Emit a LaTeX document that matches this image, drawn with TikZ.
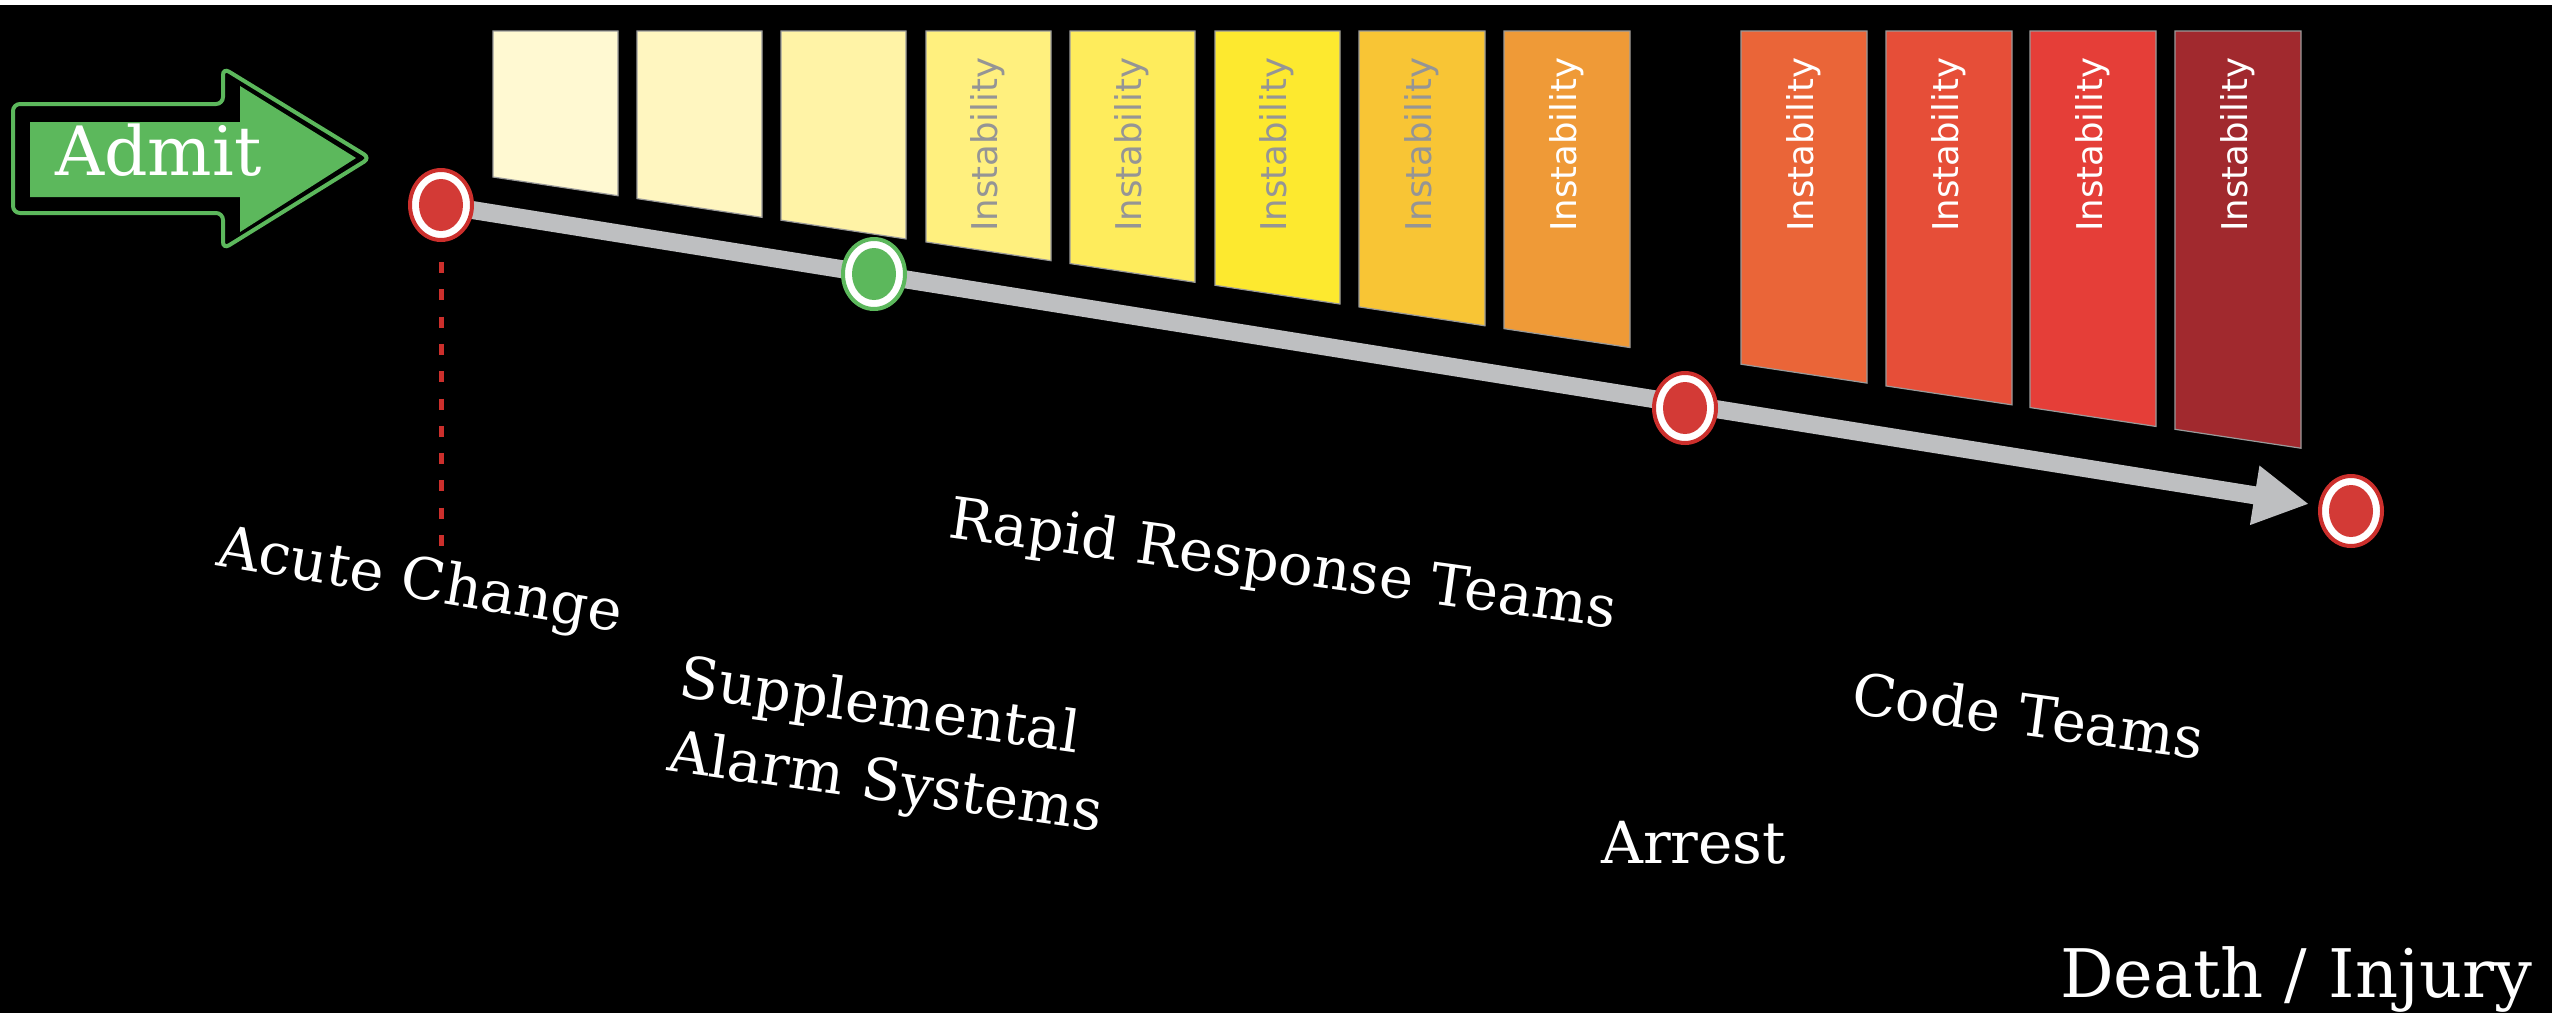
\documentclass[tikz,border=0pt]{standalone}
\usepackage{fontspec}
\setmainfont{DejaVu Serif}
\newfontfamily\instabfont{DejaVu Sans}
\usetikzlibrary{arrows.meta,shapes.geometric}
\definecolor{admitgreen}{HTML}{5CB85C}
\definecolor{ringred}{HTML}{CC2F2C}
\definecolor{innerred}{HTML}{D33A36}
\definecolor{track}{HTML}{BEBFC1}
\definecolor{instgrey}{HTML}{959595}
\definecolor{boxedge}{HTML}{9A9A9A}
\definecolor{b1}{HTML}{FFF9D2}
\definecolor{b2}{HTML}{FFF6C0}
\definecolor{b3}{HTML}{FFF3A6}
\definecolor{b4}{HTML}{FFF07E}
\definecolor{b5}{HTML}{FEEC5C}
\definecolor{b6}{HTML}{FDE92F}
\definecolor{b7}{HTML}{F8C535}
\definecolor{b8}{HTML}{EF9A37}
\definecolor{b9}{HTML}{EA6538}
\definecolor{b10}{HTML}{E64E38}
\definecolor{b11}{HTML}{E53E38}
\definecolor{b12}{HTML}{A1292E}
\begin{document}
\begin{tikzpicture}[x=1pt,y=-1pt,
  lbl/.style={text=white, inner sep=0pt, anchor=base west, font=\fontsize{57.5}{75}\selectfont},
  instab/.style={inner sep=0pt, rotate=90, anchor=west, font=\instabfont\fontsize{35.5}{36}\selectfont},
  marker/.style={ellipse, minimum width=62pt, minimum height=70pt, inner sep=0pt,
     fill=white, draw=#1, line width=4pt},
  redmark/.style={marker=ringred, path picture={\fill[innerred] (path picture bounding box.center) ellipse (22pt and 26pt);}},
  greenmark/.style={marker=admitgreen, path picture={\fill[admitgreen] (path picture bounding box.center) ellipse (22pt and 26pt);}},
  trackline/.style={draw=track, line width=18pt, -{Triangle[length=55pt,width=56pt]}},
  reddots/.style={draw=ringred, line width=5pt, dash pattern=on 11pt off 16.3pt}
]
% background
\fill[black] (0,0) rectangle (2552,1013);
\fill[white] (0,0) rectangle (2552,5);

% Admit arrow
\draw[admitgreen, line width=4pt, rounded corners=7pt]
  (13,104) -- (223,104) -- (223,68) -- (370,158) -- (223,249) -- (223,213) -- (13,213) -- cycle;
\fill[admitgreen] (30,122) -- (240,122) -- (240,86) -- (356,158) -- (240,232) -- (240,197) -- (30,197) -- cycle;
\node[text=white, inner sep=0pt, anchor=base west, font=\fontsize{68}{70}\selectfont] (admit) at (55,175) {Admit};

% instability boxes
\foreach \L/\w/\c in {493/125/b1, 637/125/b2, 781/125/b3, 926/125/b4, 1070/125/b5, 1215/125/b6,
                     1359/126/b7, 1504/126/b8, 1741/126/b9, 1886/126/b10, 2030/126/b11, 2175/126/b12}{
  \filldraw[fill=\c, draw=boxedge, line width=1.2pt]
    (\L,31) -- ({\L+\w},31) -- ({\L+\w},{177+0.15*(\L+\w-493)}) -- (\L,{177+0.15*(\L-493)}) -- cycle;
}
\foreach \x/\tc [count=\i from 4] in {988/instgrey, 1132/instgrey, 1277/instgrey, 1422/instgrey, 1567/white,
                                      1804/white, 1949/white, 2093/white, 2238/white}{
  \node[instab, text=\tc] (inst\i) at (\x,232) {Instability};
}

% track
\coordinate (p1) at (441,205);
\coordinate (p2) at (874,274);
\coordinate (p3) at (1685,408);
\coordinate (p4) at (2351,511);
\coordinate (tip) at (2309,504);
\coordinate (dotend) at (441,548);
\draw[trackline] (p1) -- (tip);
\draw[reddots] (441,262) -- (dotend);

\node[redmark] (m1) at (p1) {};
\node[greenmark] (m2) at (p2) {};
\node[redmark] (m3) at (p3) {};
\node[redmark] (m4) at (p4) {};

% labels
\node[lbl, rotate=-9.5] (acute) at (215,565) {Acute Change};
\node[lbl, rotate=-7.8] (rrt) at (947,537) {Rapid Response Teams};
\node[lbl, rotate=-8, anchor=north west, align=left] (sup) at (683,653) {Supplemental\\Alarm Systems};
\node[lbl, rotate=-7.5] (code) at (1850,713) {Code Teams};
\node[text=white, inner sep=0pt, anchor=base west, font=\fontsize{58}{60}\selectfont] (arrest) at (1601,863) {Arrest};
\node[text=white, inner sep=0pt, anchor=base west, font=\fontsize{67}{70}\selectfont] (death) at (2060,997) {Death / Injury};
\end{tikzpicture}
\end{document}
